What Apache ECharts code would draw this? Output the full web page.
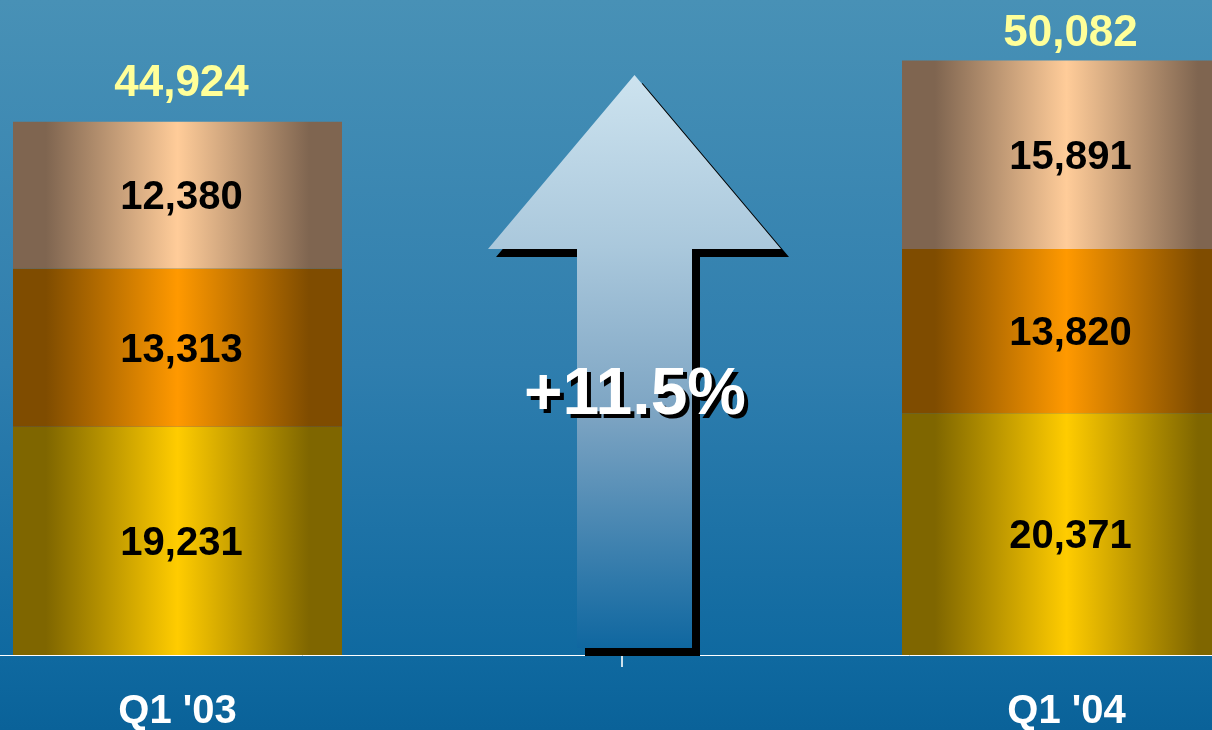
<!DOCTYPE html>
<html>
<head>
<meta charset="utf-8">
<style>
  html, body { margin: 0; padding: 0; width: 1212px; height: 730px; overflow: hidden; }
  #chart { width: 1212px; height: 730px; }
</style>
<script src="https://cdn.jsdelivr.net/npm/echarts@6/dist/echarts.min.js"></script>
</head>
<body>
<div id="chart"></div>
<script>
// Quarterly volume, split into three stacked components
const categories = ["Q1 '03", "Q1 '04"];
const lowerValues = [19231, 20371];
const middleValues = [13313, 13820];
const upperValues = [12380, 15891];
const totals = categories.map((_, i) => lowerValues[i] + middleValues[i] + upperValues[i]);
const growthPct = (totals[1] / totals[0] - 1) * 100;

const FONT = "'Liberation Sans', Arial, sans-serif";

// Cylinder-like shading: dark edges, bright centre
function shade(bright, dark) {
  return new echarts.graphic.LinearGradient(0, 0, 1, 0, [
    { offset: 0, color: dark },
    { offset: 0.1, color: dark },
    { offset: 0.5, color: bright },
    { offset: 0.9, color: dark },
    { offset: 1, color: dark }
  ]);
}

const fmt = v => v.toLocaleString('en-US');

const segLabel = {
  show: true,
  position: 'inside',
  offset: [4, 3],
  color: '#000',
  fontFamily: FONT,
  fontWeight: 'bold',
  fontSize: 40,
  formatter: p => fmt(p.value)
};

// gap between each stack top and its total label
const totalLabelGap = [16, 5];

const chart = echarts.init(document.getElementById('chart'));

// Up arrow outline
const arrowPts = [[634.5, 75], [781, 249], [692, 249], [692, 648], [577, 648], [577, 249], [488, 249]];

chart.setOption({
  animation: false,
  backgroundColor: new echarts.graphic.LinearGradient(0, 0, 0, 1, [
    { offset: 0, color: '#4891b6' },
    { offset: 0.5, color: '#2f7eae' },
    { offset: 0.9, color: '#0f69a0' },
    { offset: 1, color: '#0a6299' }
  ]),
  grid: { left: -267, right: -299, top: 2, bottom: 75, containLabel: false, outerBoundsMode: 'none' },
  xAxis: {
    type: 'category',
    data: categories,
    axisLine: { lineStyle: { color: '#ffffff', width: 1 } },
    axisTick: { show: true, length: 12, lineStyle: { color: 'rgba(255,255,255,0.8)', width: 2 } },
    axisLabel: { color: '#ffffff', fontFamily: FONT, fontWeight: 'bold', fontSize: 40, lineHeight: 40, margin: 37 }
  },
  yAxis: {
    type: 'value',
    min: 0,
    max: 55000,
    show: false,
    splitLine: { show: false }
  },
  series: [
    {
      type: 'bar', stack: 'total', barWidth: 329, z: 3,
      data: lowerValues,
      itemStyle: { color: shade('#ffcc00', '#7f6600') },
      label: segLabel
    },
    {
      type: 'bar', stack: 'total', barWidth: 329, z: 3,
      data: middleValues,
      itemStyle: { color: shade('#ff9900', '#7f4c00') },
      label: segLabel
    },
    {
      type: 'bar', stack: 'total', barWidth: 329, z: 3,
      data: upperValues,
      itemStyle: { color: shade('#ffcc99', '#7f6550') },
      label: segLabel
    },
    {
      // zero-height cap carrying the total above each stack
      type: 'bar', stack: 'total', barWidth: 329, z: 3,
      data: categories.map((_, i) => ({ value: 0, label: { distance: totalLabelGap[i] } })),
      itemStyle: { color: 'transparent' },
      label: {
        show: true,
        position: 'top',
        offset: [4, 0],
        color: '#ffff99',
        fontFamily: FONT,
        fontWeight: 'bold',
        fontSize: 44,
        lineHeight: 44,
        formatter: p => fmt(totals[p.dataIndex])
      }
    }
  ],
  graphic: [
    {
      type: 'polygon', z: 10,
      x: 8, y: 8,
      shape: { points: arrowPts },
      style: { fill: '#000000' }
    },
    {
      type: 'polygon', z: 11,
      shape: { points: arrowPts },
      style: {
        fill: new echarts.graphic.LinearGradient(0, 0, 0, 1, [
          { offset: 0, color: '#cde3ef' },
          { offset: 0.3, color: '#aac8dc' },
          { offset: 0.6, color: '#7ba3c2' },
          { offset: 1, color: '#0f67a0' }
        ])
      }
    },
    {
      type: 'text', z: 12,
      x: 639, y: 400,
      style: {
        text: '+' + growthPct.toFixed(1) + '%',
        fill: '#000000',
        font: 'bold 66px ' + FONT,
        textAlign: 'center',
        textVerticalAlign: 'middle'
      }
    },
    {
      type: 'text', z: 13,
      x: 635, y: 396,
      style: {
        text: '+' + growthPct.toFixed(1) + '%',
        fill: '#ffffff',
        font: 'bold 66px ' + FONT,
        textAlign: 'center',
        textVerticalAlign: 'middle'
      }
    }
  ]
});
</script>
</body>
</html>
